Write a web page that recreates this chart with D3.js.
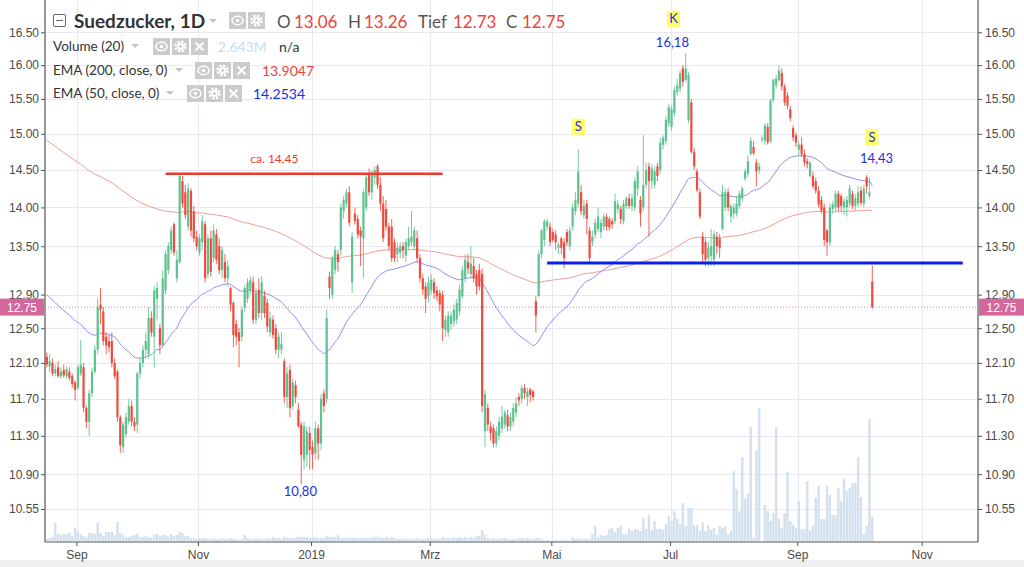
<!DOCTYPE html>
<html><head><meta charset="utf-8">
<script src="https://cdn.jsdelivr.net/npm/d3@7"></script>
<style>body{margin:0;background:#fff;overflow:hidden}svg{display:block}</style>
</head><body>
<svg id="c" width="1024" height="567"></svg>
<script>
// ---------- DATA ----------
const firstDate = "2018-08-17";
const holidays = ["2018-12-24","2018-12-25","2018-12-26","2019-01-01","2019-05-01"];

const open = [12.17,12.06,12.10,11.98,12.05,11.95,12.02,11.95,12.00,11.95,
11.88,11.82,11.98,12.05,11.60,11.45,11.76,12.00,12.25,12.78,
12.70,12.40,12.35,12.35,12.10,12.00,11.50,11.18,11.32,11.45,
11.62,11.45,11.42,11.98,12.10,12.25,12.20,12.62,12.40,12.85,
12.50,12.30,12.95,13.20,13.45,13.78,13.10,13.30,14.35,14.20,
13.75,14.22,13.95,13.62,13.42,13.55,13.78,13.15,13.60,13.35,
13.65,13.50,13.20,13.30,13.10,12.98,12.80,12.55,12.45,12.40,
12.75,12.85,12.95,13.05,12.60,12.96,12.68,12.88,12.80,12.45,
12.60,12.50,12.25,12.25,12.12,11.72,12.02,11.62,11.85,11.58,
11.42,11.05,11.10,11.33,11.18,11.12,11.38,11.22,11.76,11.70,
13.12,12.90,13.20,13.40,13.45,13.95,14.05,14.20,13.05,13.92,
13.85,13.70,13.60,14.00,14.45,14.20,14.40,14.55,14.30,14.05,
13.98,13.75,13.75,13.55,13.40,13.42,13.50,13.38,13.50,13.55,
13.50,13.60,13.35,13.10,13.00,12.88,12.95,13.05,12.95,12.92,
12.90,12.48,12.45,12.55,12.58,12.60,12.70,12.88,13.10,13.30,
13.15,13.25,13.15,13.20,13.15,11.35,11.60,11.40,11.38,11.22,
11.30,11.38,11.42,11.52,11.40,11.45,11.55,11.72,11.70,11.82,
11.72,11.80,11.78,12.82,12.88,13.40,13.58,13.75,13.75,13.68,
13.65,13.48,13.60,13.55,13.68,13.50,13.75,13.95,14.05,14.20,
13.90,14.05,13.70,13.55,13.65,13.72,13.68,13.75,13.88,13.85,
13.82,13.82,13.98,13.98,13.82,14.02,14.12,14.02,14.00,14.25,
14.10,14.00,14.30,14.55,14.35,14.30,14.55,14.50,14.85,14.90,
15.15,15.10,15.30,15.60,15.65,15.95,15.78,15.20,15.45,14.75,
14.48,14.20,13.62,13.55,13.35,13.38,13.33,13.62,13.60,13.72,
14.00,14.20,13.88,13.92,13.92,14.02,14.12,14.38,14.45,14.72,
14.82,14.60,14.50,14.92,14.90,15.10,14.90,15.48,15.70,15.78,
15.88,15.68,15.55,15.35,15.08,14.98,14.78,14.85,14.72,14.62,
14.42,14.42,14.35,14.22,14.10,14.00,13.70,13.55,13.98,14.00,
14.18,14.15,14.00,14.00,14.05,14.18,14.02,14.05,14.22,14.05,
14.40,14.15,13.06];

const high = [12.22,12.20,12.15,12.08,12.12,12.05,12.08,12.06,12.05,11.98,
11.90,12.08,12.36,12.10,11.62,11.80,12.05,12.30,12.85,12.98,
12.75,12.45,12.42,12.45,12.15,12.02,11.52,11.45,11.55,11.70,
11.68,11.50,12.00,12.15,12.30,12.45,12.75,12.70,13.00,13.05,
12.55,13.20,13.45,13.55,13.75,13.80,13.45,14.46,14.42,14.30,
14.32,14.25,14.02,13.70,13.65,13.90,13.82,13.65,13.70,13.78,
13.72,13.60,13.50,13.40,13.32,13.00,12.82,12.60,12.50,12.75,
13.02,13.10,13.12,13.12,12.98,13.10,13.12,12.95,12.85,12.70,
12.65,12.55,12.45,12.45,12.15,12.05,12.08,11.92,11.90,11.65,
11.45,11.45,11.40,11.40,11.25,11.45,11.42,11.75,11.80,12.72,
13.18,13.38,13.50,13.45,14.05,14.15,14.25,14.28,13.68,14.00,
13.90,13.75,14.25,14.45,14.52,14.50,14.55,14.58,14.40,14.15,
14.10,13.80,13.85,13.60,13.55,13.55,13.55,13.60,13.75,13.95,
13.75,13.70,13.40,13.15,13.05,13.12,13.15,13.10,13.00,12.96,
12.95,12.65,12.70,12.70,12.78,12.85,13.02,13.25,13.40,13.40,
13.50,13.35,13.20,13.28,13.22,11.80,11.65,11.45,11.42,11.40,
11.50,11.62,11.58,11.58,11.55,11.65,11.72,11.76,11.85,11.86,
11.82,11.82,11.80,12.88,13.45,13.72,13.85,13.85,13.80,13.72,
13.70,13.55,13.62,13.60,13.72,13.75,14.05,14.20,14.78,14.30,
14.10,14.10,13.75,13.70,13.85,14.00,13.85,13.92,13.92,13.88,
13.86,14.18,14.10,14.02,14.10,14.15,14.18,14.18,14.40,14.55,
14.15,14.98,14.60,14.60,14.58,14.55,14.60,14.95,14.98,15.25,
15.42,15.40,15.68,15.80,15.92,16.00,16.18,15.90,15.50,14.80,
14.52,14.25,13.68,13.60,13.55,13.72,13.70,13.68,13.65,14.30,
14.25,14.25,14.05,14.05,14.15,14.22,14.28,14.52,14.70,14.95,
14.90,14.65,14.60,14.98,15.15,15.15,15.50,15.80,15.85,16.00,
15.95,15.72,15.60,15.40,15.12,15.02,14.90,14.95,14.78,14.66,
14.62,14.48,14.40,14.28,14.15,14.05,13.72,14.05,14.08,14.22,
14.22,14.18,14.12,14.15,14.30,14.22,14.18,14.28,14.28,14.30,
14.43,14.40,13.26];

const low = [12.05,12.00,11.95,11.95,11.93,11.92,11.93,11.92,11.90,11.82,
11.68,11.80,11.95,11.55,11.38,11.30,11.72,11.98,12.20,12.55,
12.30,12.20,12.22,12.05,11.92,11.45,11.12,11.12,11.28,11.42,
11.40,11.35,11.33,11.92,12.05,12.15,12.15,12.40,12.05,12.60,
12.20,12.28,12.90,13.15,13.40,13.38,13.05,13.28,14.00,13.85,
13.70,13.62,13.55,13.45,13.38,13.45,13.05,13.10,13.12,13.30,
13.28,13.15,13.10,13.05,13.00,12.70,12.28,12.30,12.05,12.35,
12.70,12.80,12.90,12.55,12.55,12.62,12.60,12.62,12.45,12.40,
12.38,12.20,12.15,12.20,11.65,11.60,11.50,11.58,11.65,11.38,
10.80,10.95,10.98,10.95,10.95,11.05,11.05,11.15,11.55,11.65,
12.85,12.85,13.15,13.18,13.38,13.85,14.00,13.75,12.92,13.78,
13.60,13.25,13.10,13.95,14.15,14.10,14.30,14.25,13.95,13.55,
13.70,13.45,13.30,13.30,13.30,13.35,13.35,13.30,13.45,13.50,
13.45,13.30,13.05,12.90,12.68,12.80,12.90,12.85,12.82,12.70,
12.35,12.40,12.40,12.48,12.52,12.55,12.65,12.85,13.05,13.15,
13.10,13.05,12.90,12.95,11.55,11.18,11.35,11.25,11.18,11.18,
11.25,11.33,11.38,11.35,11.35,11.40,11.50,11.62,11.65,11.70,
11.62,11.66,11.68,12.45,12.88,13.35,13.50,13.70,13.50,13.55,
13.45,13.40,13.40,13.22,13.50,13.45,13.70,13.90,14.00,13.90,
13.85,13.65,13.30,13.50,13.60,13.68,13.60,13.70,13.70,13.70,
13.72,13.78,13.92,13.78,13.78,13.98,13.98,13.95,13.95,14.15,
13.75,13.95,14.25,13.62,14.25,14.25,14.35,14.45,14.78,14.85,
15.10,15.05,15.25,15.55,15.60,15.68,15.75,15.15,14.72,14.50,
14.20,13.85,13.30,13.25,13.25,13.25,13.25,13.40,13.35,13.70,
13.95,13.95,13.80,13.85,13.88,13.98,14.08,14.35,14.40,14.70,
14.70,14.28,14.45,14.88,14.85,14.85,14.88,15.45,15.65,15.75,
15.62,15.40,15.35,15.18,14.90,14.82,14.70,14.68,14.55,14.52,
14.40,14.25,14.18,14.00,13.92,13.50,13.38,13.50,13.92,13.95,
13.95,13.95,13.90,13.88,14.00,13.98,13.96,14.00,14.02,14.00,
14.18,14.12,12.73];

const close = [12.08,12.12,11.98,12.03,11.95,12.00,11.96,12.03,11.93,11.86,
11.80,12.05,12.08,11.60,11.45,11.76,12.00,12.25,12.75,12.72,
12.35,12.30,12.28,12.10,11.95,11.50,11.20,11.42,11.50,11.62,
11.45,11.40,11.98,12.10,12.25,12.35,12.62,12.45,12.95,12.98,
12.30,13.10,13.40,13.50,13.70,13.42,13.33,14.42,14.05,13.90,
14.25,13.70,13.60,13.50,13.60,13.82,13.10,13.60,13.18,13.70,
13.33,13.20,13.45,13.10,13.25,12.78,12.42,12.40,12.35,12.72,
12.98,13.05,13.08,12.60,12.92,12.68,13.05,12.68,12.52,12.62,
12.42,12.25,12.40,12.32,11.72,11.98,11.60,11.88,11.72,11.40,
11.10,11.40,11.35,11.15,11.10,11.38,11.22,11.70,11.62,12.62,
12.98,13.35,13.45,13.30,14.00,14.10,14.20,13.80,13.62,13.82,
13.65,13.62,14.20,14.40,14.20,14.45,14.50,14.30,14.05,13.60,
13.75,13.50,13.35,13.35,13.48,13.50,13.45,13.55,13.60,13.62,
13.70,13.35,13.10,12.96,12.85,13.05,13.08,12.92,12.88,12.78,
12.50,12.60,12.65,12.65,12.72,12.80,12.96,13.20,13.33,13.22,
13.28,13.10,13.00,13.00,11.62,11.75,11.42,11.33,11.22,11.35,
11.45,11.50,11.55,11.40,11.50,11.60,11.65,11.68,11.82,11.76,
11.78,11.74,11.72,12.65,13.40,13.70,13.82,13.82,13.55,13.58,
13.55,13.52,13.48,13.35,13.55,13.70,14.00,14.10,14.48,13.95,
14.02,13.85,13.35,13.62,13.80,13.88,13.80,13.88,13.75,13.74,
13.78,14.08,14.04,13.85,14.05,14.12,14.02,14.12,14.35,14.48,
13.92,14.30,14.50,14.35,14.52,14.48,14.42,14.88,14.95,15.20,
15.38,15.35,15.63,15.70,15.88,15.75,15.95,15.85,14.75,14.55,
14.23,13.88,13.40,13.33,13.48,13.50,13.65,13.50,13.48,14.20,
14.20,14.00,14.02,14.00,14.05,14.18,14.25,14.48,14.62,14.90,
14.73,14.48,14.55,14.94,15.12,14.88,15.48,15.78,15.80,15.92,
15.68,15.45,15.40,15.22,14.95,14.88,14.85,14.72,14.60,14.58,
14.60,14.28,14.22,14.04,13.96,13.58,13.55,14.00,14.04,14.18,
14.00,14.02,14.08,14.10,14.25,14.02,14.12,14.20,14.06,14.25,
14.28,14.20,12.75];

// volume in millions of shares
const volume = [0.22,0.33,0.44,1.98,0.77,0.66,0.77,0.77,0.88,0.55,
1.43,0.99,0.77,0.55,0.44,0.88,0.88,0.77,1.98,0.88,
0.55,0.99,0.99,0.99,0.66,2.09,0.88,0.66,0.44,0.44,
0.55,0.66,0.77,0.44,0.44,0.55,0.44,0.33,0.66,0.77,
0.55,0.66,0.66,0.44,0.77,0.55,0.66,0.99,0.88,0.55,
0.55,0.33,0.33,0.22,0.33,0.33,0.33,0.22,0.22,0.33,
0.22,0.22,0.33,0.22,0.22,0.33,0.22,0.22,0.11,0.22,
0.66,0.33,0.22,0.22,0.33,0.22,0.22,0.22,0.33,0.22,
0.44,0.33,0.33,0.22,0.44,0.33,0.33,0.33,0.33,0.44,
0.44,0.44,0.44,0.33,0.44,0.44,0.33,0.33,0.33,0.55,
0.44,0.44,0.44,0.66,0.33,0.33,0.33,0.33,0.44,0.33,
0.33,0.33,0.33,0.33,0.33,0.44,0.44,0.44,0.44,0.33,
0.44,0.33,0.44,0.33,0.22,0.22,0.22,0.33,0.22,0.22,
0.22,0.33,0.22,0.22,0.22,0.33,0.22,0.22,0.22,0.22,
0.44,0.33,0.33,0.33,0.44,0.33,0.44,0.33,0.44,0.33,
0.44,0.33,0.55,0.55,1.21,0.66,0.33,0.22,0.33,0.22,
0.22,0.33,0.33,0.22,0.22,0.22,0.22,0.33,0.33,0.22,
0.33,0.22,0.22,0.33,0.33,0.22,0.11,0.11,0.07,0.07,
0.07,0.07,0.07,0.07,0.07,0.07,0.44,0.22,0.33,0.22,
0.22,0.22,0.22,0.77,1.65,0.44,0.66,0.55,0.66,1.32,
1.43,0.99,1.43,1.65,0.77,0.77,1.32,1.10,1.32,1.21,
1.10,2.53,1.32,2.86,1.21,2.20,1.32,1.32,1.21,1.87,
2.75,2.20,3.30,2.42,1.87,4.18,1.65,3.63,3.63,1.76,
1.76,1.10,2.09,1.10,1.76,1.21,1.43,0.66,1.65,1.43,
1.65,0.77,1.10,7.70,5.72,3.30,9.24,4.62,5.17,12.54,
0.33,10.01,14.63,0,3.96,3.30,2.20,3.08,12.54,2.42,
1.43,3.08,7.59,2.20,1.76,1.43,4.40,1.32,1.32,6.60,
1.21,1.65,4.73,6.05,2.42,2.42,6.05,5.06,2.86,2.86,
5.83,4.40,6.82,5.50,5.83,6.38,6.38,9.24,4.84,0.77,
1.65,13.42,2.643];

const priceTicks = [16.5,16,15.5,15,14.5,14,13.5,12.9,12.5,12.1,11.7,11.3,10.9,10.55];
const monthTickDates = ["2018-09-03","2018-11-01","2019-01-02","2019-03-01","2019-05-02","2019-07-01","2019-09-02","2019-11-01"];
const monthTickLabels = ["Sep","Nov","2019","Mrz","Mai","Jul","Sep","Nov"];
const emaPeriods = [200, 50];
const emaStart = [14.91, 12.90];   // indicator values at the first visible bar
const legendValues = {o:"13.06", h:"13.26", l:"12.73", c:"12.75", vol:"2.643M", ema200:"13.9047", ema50:"14.2534"};
const lastPrice = 12.75;
// annotations: [bar index, price]
const resistance = {from:42, to:140, price:14.45, label:"ca. 14,45", labelAt:80.5};
const neckline = {from:177, to:324, price:13.29};
const markerLetters = [{t:"S", i:188, p:15.10},{t:"K", i:221.7, p:16.71},{t:"S", i:291.9, p:14.95}];
const priceNotes = [{t:"16,18", i:221.3, p:16.35},{t:"14,43", i:293.5, p:14.66},{t:"10,80", i:89.7, p:10.72}];

// ---------- CALENDAR ----------
const dates = [];
{
  const d = new Date(firstDate + "T00:00:00Z");
  while (dates.length < 340) {
    const s = d.toISOString().slice(0,10), wd = d.getUTCDay();
    if (wd !== 0 && wd !== 6 && !holidays.includes(s)) dates.push(s);
    d.setUTCDate(d.getUTCDate() + 1);
  }
}
const monthIdx = monthTickDates.map(s => dates.indexOf(s));

// ---------- SCALES ----------
const W = 1024, H = 567, L = 45, R = 978, B = 542;
const x = d3.scaleLinear().domain([0, 310]).range([46.8, 46.8 + 2.827*310]);
const y = d3.scaleLog().domain([10.55, 16.5]).range([509, 32.3]);
const yv = d3.scaleLinear().domain([0, 11]).range([541, 441]);

const svg = d3.select("#c");
const UP = "#5cc28f", DN = "#ef4a3d";
const AX_FONT = "'Liberation Sans', Arial, sans-serif";
const LG_FONT = "Lato, 'Open Sans', sans-serif";

svg.append("rect").attr("width", W).attr("height", H).attr("fill", "#fff");
svg.append("rect").attr("x", 0).attr("y", 560).attr("width", W).attr("height", 7).attr("fill", "#efefef");

svg.append("defs").append("clipPath").attr("id", "plot")
  .append("rect").attr("x", L).attr("y", 0).attr("width", R - L).attr("height", B);

// grid
const grid = svg.append("g").attr("stroke", "#e8e8f4").attr("stroke-width", 1);
priceTicks.forEach(p => grid.append("line").attr("x1", L).attr("x2", R)
  .attr("y1", Math.round(y(p)) + 0.5).attr("y2", Math.round(y(p)) + 0.5));
monthIdx.forEach(i => grid.append("line").attr("y1", 0).attr("y2", B)
  .attr("x1", Math.round(x(i)) - 0.5).attr("x2", Math.round(x(i)) - 0.5));

const plot = svg.append("g").attr("clip-path", "url(#plot)");

// volume
plot.append("g").selectAll("rect").data(volume).join("rect")
  .attr("x", (v, i) => x(i) - 1.2).attr("width", 2.4)
  .attr("y", v => yv(v)).attr("height", v => yv(0) - yv(v))
  .attr("fill", "#d3e1ee");

// EMAs
function ema(vals, n, seed) {
  const a = 2 / (n + 1); const out = []; let e = seed;
  vals.forEach((v, i) => { if (i > 0) e = e + a * (v - e); out.push(e); });
  return out;
}
const ema200 = ema(close, emaPeriods[0], emaStart[0]);
const ema50 = ema(close, emaPeriods[1], emaStart[1]);
const line = d3.line().x((d, i) => x(i)).y(d => y(d)).curve(d3.curveMonotoneX);
plot.append("path").attr("d", line(ema200)).attr("fill", "none").attr("stroke", "#f39a94").attr("stroke-width", 1);
plot.append("path").attr("d", line(ema50)).attr("fill", "none").attr("stroke", "#8d8df2").attr("stroke-width", 1);

// candles
const cg = plot.append("g");
close.forEach((c, i) => {
  const o = open[i], col = c >= o ? UP : DN;
  const hi = Math.max(high[i], o, c), lo = Math.min(low[i], o, c);
  const cx = x(i);
  cg.append("line").attr("x1", cx).attr("x2", cx).attr("y1", y(hi)).attr("y2", y(lo))
    .attr("stroke", col).attr("stroke-width", 1).attr("stroke-opacity", 0.85);
  const y1 = y(Math.max(o, c)), y2 = y(Math.min(o, c));
  cg.append("rect").attr("x", cx - 1.1).attr("width", 2.2)
    .attr("y", y1).attr("height", Math.max(1, y2 - y1)).attr("fill", col);
});

// last price line
plot.append("line").attr("x1", L).attr("x2", R).attr("y1", y(lastPrice)).attr("y2", y(lastPrice))
  .attr("stroke", "#e07fb4").attr("stroke-width", 1).attr("stroke-dasharray", "1,2");

// annotations
plot.append("line").attr("x1", x(resistance.from)).attr("x2", x(resistance.to))
  .attr("y1", y(resistance.price)).attr("y2", y(resistance.price))
  .attr("stroke", "#ee3a2c").attr("stroke-width", 2.5);
svg.append("text").attr("x", x(resistance.labelAt)).attr("y", y(resistance.price) - 11)
  .attr("text-anchor", "middle").attr("font-family", LG_FONT).attr("font-size", 12)
  .attr("fill", "#ee3a2c").text(resistance.label);
plot.append("line").attr("x1", x(neckline.from)).attr("x2", x(neckline.to))
  .attr("y1", y(neckline.price)).attr("y2", y(neckline.price))
  .attr("stroke", "#0b1fe8").attr("stroke-width", 3);

markerLetters.forEach(m => {
  const cx = x(m.i), cy = y(m.p);
  svg.append("rect").attr("x", cx - 6.5).attr("y", cy - 8).attr("width", 13).attr("height", 16).attr("fill", "#ffff66");
  svg.append("text").attr("x", cx).attr("y", cy + 4.5).attr("text-anchor", "middle")
    .attr("font-family", LG_FONT).attr("font-size", 13).attr("fill", "#1a2ee6").text(m.t);
});
priceNotes.forEach(m => {
  svg.append("text").attr("x", x(m.i)).attr("y", y(m.p) + 4.5).attr("text-anchor", "middle")
    .attr("font-family", LG_FONT).attr("font-size", 13).attr("fill", "#1a2ee6").text(m.t);
});

// axes
function styleAxis(g) {
  g.select(".domain").remove();
  g.selectAll(".tick line").attr("stroke", "#555");
  g.selectAll(".tick text").attr("fill", "#4a4a4a").attr("font-family", AX_FONT).attr("font-size", 12);
}
svg.append("g").attr("transform", `translate(${L},0)`)
  .call(d3.axisLeft(y).tickValues(priceTicks).tickFormat(d3.format(".2f")).tickSize(4).tickPadding(2).tickSizeOuter(0))
  .call(styleAxis);
svg.append("g").attr("transform", `translate(${R},0)`)
  .call(d3.axisRight(y).tickValues(priceTicks).tickFormat(d3.format(".2f")).tickSize(4).tickPadding(3).tickSizeOuter(0))
  .call(styleAxis);
svg.append("g").attr("transform", `translate(-1.5,${B})`)
  .call(d3.axisBottom(x).tickValues(monthIdx).tickFormat((d, k) => monthTickLabels[k]).tickSize(4).tickPadding(4).tickSizeOuter(0))
  .call(styleAxis);
const axl = svg.append("g").attr("stroke", "#555").attr("stroke-width", 1.2);
axl.append("line").attr("x1", L).attr("x2", L).attr("y1", 0).attr("y2", B);
axl.append("line").attr("x1", R).attr("x2", R).attr("y1", 0).attr("y2", B);
axl.append("line").attr("x1", L).attr("x2", R).attr("y1", B).attr("y2", B);

// last price labels
[[0, L - 1], [R + 1, W]].forEach(([a, b]) => {
  svg.append("rect").attr("x", a).attr("y", y(lastPrice) - 8.5).attr("width", b - a).attr("height", 17).attr("fill", "#d4689d");
  svg.append("text").attr("x", (a + b) / 2).attr("y", y(lastPrice) + 4.5).attr("text-anchor", "middle")
    .attr("font-family", AX_FONT).attr("font-size", 12).attr("fill", "#fff").text(lastPrice.toFixed(2));
});

// ---------- LEGEND ----------
const lg = svg.append("g").attr("font-family", LG_FONT);
function caret(cx, cy) {
  lg.append("path").attr("d", `M${cx-4},${cy-2}L${cx+4},${cy-2}L${cx},${cy+2}Z`).attr("fill", "#c4c4c4");
}
function icon(x0, y0, type) {
  const g = lg.append("g").attr("transform", `translate(${x0},${y0})`);
  g.append("rect").attr("width", 17).attr("height", 17).attr("fill", "#cbcbcb");
  if (type === "eye") {
    g.append("ellipse").attr("cx", 8.5).attr("cy", 8.5).attr("rx", 5.5).attr("ry", 4.2).attr("fill", "none").attr("stroke", "#fff").attr("stroke-width", 1.6);
    g.append("circle").attr("cx", 8.5).attr("cy", 8.5).attr("r", 1.8).attr("fill", "#fff");
  } else if (type === "gear") {
    g.append("circle").attr("cx", 8.5).attr("cy", 8.5).attr("r", 4.6).attr("fill", "none").attr("stroke", "#fff").attr("stroke-width", 3).attr("stroke-dasharray", "2.2,1.4");
    g.append("circle").attr("cx", 8.5).attr("cy", 8.5).attr("r", 3.2).attr("fill", "#fff");
    g.append("circle").attr("cx", 8.5).attr("cy", 8.5).attr("r", 1.4).attr("fill", "#cbcbcb");
  } else {
    g.append("path").attr("d", "M4.5,4.5L12.5,12.5M12.5,4.5L4.5,12.5").attr("stroke", "#fff").attr("stroke-width", 2);
  }
}
function txt(tx, ty, s, size, fill, weight) {
  lg.append("text").attr("x", tx).attr("y", ty).attr("font-size", size).attr("fill", fill)
    .attr("font-weight", weight || "normal").text(s);
}
// row 1
lg.append("rect").attr("x", 53.5).attr("y", 14.5).attr("width", 12).attr("height", 12).attr("rx", 1.5)
  .attr("fill", "#fff").attr("stroke", "#666").attr("stroke-width", 1);
lg.append("line").attr("x1", 56).attr("x2", 63).attr("y1", 20.5).attr("y2", 20.5).attr("stroke", "#666");
txt(74, 28, "Suedzucker, 1D", 19, "#333", "bold");
caret(213, 21);
icon(229, 12, "eye"); icon(248, 12, "gear");
txt(277, 28, "O", 17, "#555"); txt(294, 28, legendValues.o, 17, "#f0413b");
txt(348, 28, "H", 17, "#555"); txt(364, 28, legendValues.h, 17, "#f0413b");
txt(418, 28, "Tief", 17, "#555"); txt(453, 28, legendValues.l, 17, "#f0413b");
txt(506, 28, "C", 17, "#555"); txt(522, 28, legendValues.c, 17, "#f0413b");
// row 2
txt(53, 51, "Volume (20)", 13.5, "#333"); caret(135, 46);
icon(153, 38, "eye"); icon(172, 38, "gear"); icon(191, 38, "x");
txt(218, 52, legendValues.vol, 14, "#c9dcec"); txt(279, 52, "n/a", 14, "#333");
// row 3
txt(53, 75, "EMA (200, close, 0)", 13.5, "#333"); caret(179, 70);
icon(195, 62, "eye"); icon(214, 62, "gear"); icon(233, 62, "x");
txt(262, 76, legendValues.ema200, 14, "#f0413b");
// row 4
txt(53, 98, "EMA (50, close, 0)", 13.5, "#333"); caret(170, 93);
icon(187, 85, "eye"); icon(206, 85, "gear"); icon(225, 85, "x");
txt(253, 99, legendValues.ema50, 14, "#1a2ee6");
</script>
</body></html>
